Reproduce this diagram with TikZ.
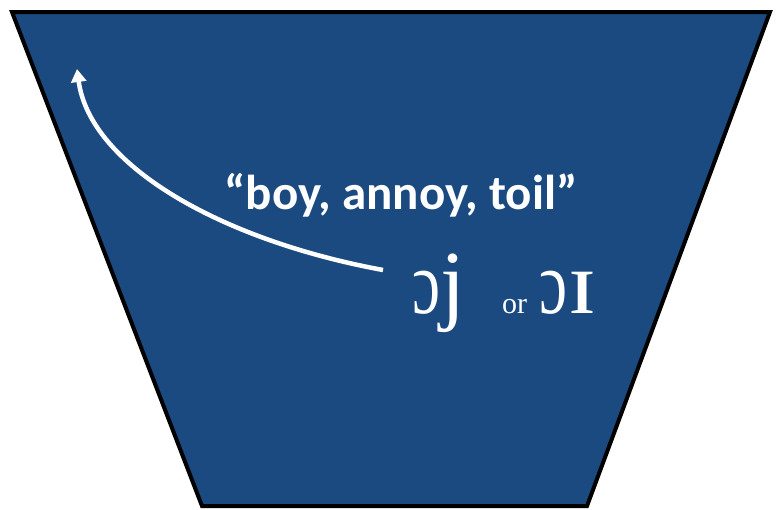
\documentclass[tikz,border=0pt]{standalone}
\usepackage{fontspec}
\setmainfont{Liberation Serif}
\newfontfamily\calibfont{Carlito}
\usetikzlibrary{arrows.meta}
\definecolor{funnelblue}{RGB}{27,74,128}

\begin{document}
\begin{tikzpicture}[x=1pt, y=-1pt,
    funnel/.style={draw=black, line width=4pt, fill=funnelblue, line join=miter},
    words/.style={font=\calibfont\bfseries\fontsize{49}{53}\selectfont, text=white, inner sep=0pt},
    ipa/.style={font=\fontsize{90}{96}\selectfont, text=white, inner sep=0pt},
    conj/.style={font=\fontsize{30}{34}\selectfont, text=white, inner sep=0pt},
    glide/.style={-{Triangle[length=13pt, width=15pt]}, white, line width=4.5pt}
]
\useasboundingbox (0,0) rectangle (776,509);

% vowel funnel
\draw[funnel] (12,12) -- (770,12) -- (587,506) -- (202,506) -- cycle;

% example words
\node[words, anchor=base] (example) at (401,209) {“boy, annoy, toil”};

% diphthong and its variant
\node[ipa, anchor=base west] (diph) at (412,313) {\scalebox{0.7}[1]{ɔ}j};
\node[conj, anchor=base west] (alt) at (502,313) {or};
\node[ipa, anchor=base west] (diphalt) at (539,313) {\scalebox{0.7}[1]{ɔ}\scalebox{1.2}[1]{ɪ}};

% glide arrow
\coordinate (start) at (383,270);
\coordinate (tip) at (77,69);
\draw[glide] (start) .. controls (220,240) and (90,165) .. (tip);

\end{tikzpicture}
\end{document}
